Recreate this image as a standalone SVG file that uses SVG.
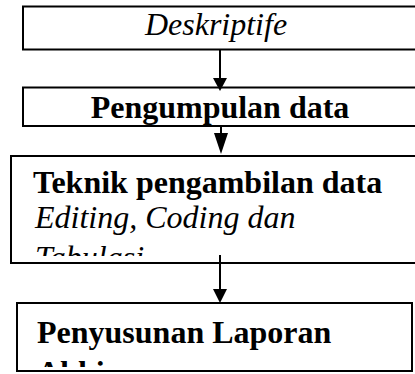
<svg xmlns="http://www.w3.org/2000/svg" width="415" height="374" viewBox="0 0 415 374">
<style>
.box{fill:#fff;stroke:#000;stroke-width:2}
.b{font-weight:bold}
.i{font-style:italic}
.ln{stroke:#000;stroke-width:2;fill:none}
</style>
<defs>
<clipPath id="c3"><rect x="11" y="156" width="404" height="100"/></clipPath>
<clipPath id="c4"><rect x="17" y="303" width="395" height="64"/></clipPath>
</defs>
<g font-family="Times New Roman, Liberation Serif, Tinos, serif" font-size="32" fill="#000">
<g id="n1">
<rect class="box" x="23" y="6.5" width="400" height="43"/>
<text class="i" x="216" y="35" text-anchor="middle">Deskriptife</text>
</g>
<g id="n2">
<rect class="box" x="23" y="87.5" width="400" height="38.5"/>
<text class="b" x="220" y="118" text-anchor="middle">Pengumpulan data</text>
</g>
<g id="n3">
<rect class="box" x="11" y="156" width="410" height="107"/>
<g clip-path="url(#c3)">
<text class="b" x="33" y="193">Teknik pengambilan data</text>
<text class="i" x="35" y="228">Editing, Coding dan</text>
<text class="i" x="35" y="268">Tabulasi</text>
</g>
</g>
<g id="n4">
<rect class="box" x="17" y="303" width="395" height="68"/>
<g clip-path="url(#c4)">
<text class="b" x="37" y="343">Penyusunan Laporan</text>
<text class="b" x="37" y="383">Akhir</text>
</g>
</g>
</g>
<g id="connectors">
<line class="ln" x1="220" y1="50" x2="220" y2="79"/>
<polygon points="213,78 227,78 220,91"/>
<line class="ln" x1="221" y1="126" x2="221" y2="134"/>
<polygon points="214,133 228,133 221,154"/>
<line class="ln" x1="220" y1="255" x2="220" y2="290"/>
<polygon points="213,289 227,289 220,303"/>
</g>
</svg>
